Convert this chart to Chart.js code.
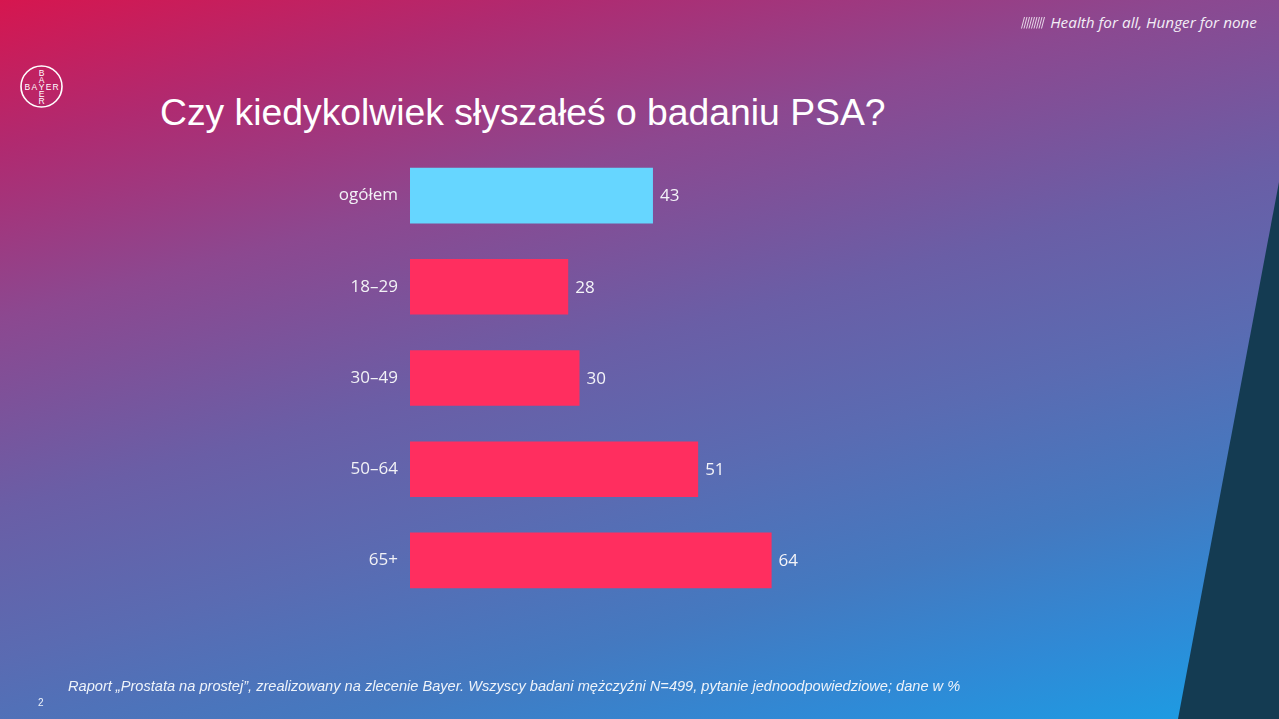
<!DOCTYPE html>
<html lang="pl">
<head>
<meta charset="utf-8">
<script src="https://cdn.jsdelivr.net/npm/chart.js@4.4.1/dist/chart.umd.min.js"></script>
<style>
  html, body { margin: 0; padding: 0; }
  body {
    width: 1279px; height: 719px; overflow: hidden; position: relative;
    background: linear-gradient(165deg, #d6164f 0%, #b02a70 14%, #8c4890 30%, #6a5ea6 48%, #5a6bb2 62%, #4479c0 76%, #2f8ad6 88%, #1a9fe5 100%);
    font-family: "Liberation Sans", Arial, sans-serif;
  }
  #dark {
    position: absolute; left: 0; top: 0; width: 1279px; height: 719px;
    background: #143b52;
    clip-path: polygon(1279px 182px, 1279px 719px, 1178px 719px);
  }
  #tagline {
    position: absolute; right: 22px; top: 12px;
    font-family: "Open Sans", sans-serif; font-style: italic; font-size: 15.3px;
    color: #f3eef6; white-space: nowrap;
  }
  #slashes { position: absolute; left: 1020px; top: 16px; }
  #title {
    position: absolute; left: 160px; top: 91px;
    font-family: "Liberation Sans", Arial, sans-serif; font-size: 37.3px; color: #ffffff;
    white-space: nowrap;
  }
  #footer {
    position: absolute; left: 68px; top: 678px;
    font-family: "Liberation Sans", Arial, sans-serif; font-style: italic; font-size: 14.6px;
    color: #eef3fa; white-space: nowrap;
  }
  #page {
    position: absolute; left: 38px; top: 697px;
    font-family: "Liberation Sans", Arial, sans-serif; font-size: 10px; color: #eef3fa;
  }
  #logo { position: absolute; left: 19px; top: 64px; }
  #wrap { position: absolute; left: 0; top: 0; width: 1279px; height: 719px; }
</style>
</head>
<body>
<div id="dark"></div>
<svg id="slashes" width="28" height="14" viewBox="0 0 28 14">
  <g stroke="#efe6f2" stroke-width="0.9">
    <line x1="4.5" y1="1" x2="1.5" y2="12.5"/>
    <line x1="7" y1="1" x2="4" y2="12.5"/>
    <line x1="9.5" y1="1" x2="6.5" y2="12.5"/>
    <line x1="12" y1="1" x2="9" y2="12.5"/>
    <line x1="14.5" y1="1" x2="11.5" y2="12.5"/>
    <line x1="17" y1="1" x2="14" y2="12.5"/>
    <line x1="19.5" y1="1" x2="16.5" y2="12.5"/>
    <line x1="22" y1="1" x2="19" y2="12.5"/>
    <line x1="24.5" y1="1" x2="21.5" y2="12.5"/>
  </g>
</svg>
<div id="tagline">Health for all, Hunger for none</div>
<svg id="logo" width="45" height="45" viewBox="0 0 45 45">
  <circle cx="22.5" cy="22.5" r="20.5" fill="none" stroke="#ffffff" stroke-width="1.6"/>
  <g fill="#ffffff" font-family="Liberation Sans, Arial, sans-serif" font-size="8.5" text-anchor="middle">
    <text x="8.4" y="25.6">B</text>
    <text x="15.4" y="25.6">A</text>
    <text x="22.5" y="25.6">Y</text>
    <text x="29.6" y="25.6">E</text>
    <text x="36.6" y="25.6">R</text>
    <text x="22.5" y="11.6">B</text>
    <text x="22.5" y="18.6">A</text>
    <text x="22.5" y="32.6">E</text>
    <text x="22.5" y="39.6">R</text>
  </g>
</svg>
<div id="title">Czy kiedykolwiek słyszałeś o badaniu PSA?</div>
<div id="wrap"><canvas id="chart" width="1279" height="719"></canvas></div>
<div id="footer">Raport „Prostata na prostej”, zrealizowany na zlecenie Bayer. Wszyscy badani mężczyźni N=499, pytanie jednoodpowiedziowe; dane w %</div>
<div id="page">2</div>
<script>
const categories = ["ogółem", "18–29", "30–49", "50–64", "65+"];
const values = [43, 28, 30, 51, 64];
const barColors = ["#66d6ff", "#ff2e5f", "#ff2e5f", "#ff2e5f", "#ff2e5f"];

const valueLabels = {
  id: "valueLabels",
  afterDatasetsDraw(chart) {
    const ctx = chart.ctx;
    const meta = chart.getDatasetMeta(0);
    ctx.save();
    ctx.font = '17px "Open Sans", sans-serif';
    ctx.fillStyle = "#f4f4f8";
    ctx.textAlign = "left";
    ctx.textBaseline = "middle";
    meta.data.forEach((bar, i) => {
      ctx.fillText(String(values[i]), bar.x + 7, bar.y + 1);
    });
    ctx.restore();
  }
};

new Chart(document.getElementById("chart"), {
  type: "bar",
  data: {
    labels: categories,
    datasets: [{
      data: values,
      backgroundColor: barColors,
      borderWidth: 0,
      barPercentage: 0.61,
      categoryPercentage: 1.0
    }]
  },
  options: {
    indexAxis: "y",
    responsive: false,
    animation: false,
    devicePixelRatio: 1,
    layout: { padding: { left: 0, right: 304, top: 150, bottom: 113 } },
    plugins: { legend: { display: false }, tooltip: { enabled: false } },
    scales: {
      x: { display: false, min: 0, max: 100 },
      y: {
        grid: { display: false, drawTicks: false },
        border: { display: false },
        ticks: {
          color: "#f2f2f6",
          padding: 12,
          font: { family: "Open Sans", size: 17 }
        },
        afterFit(scale) { scale.width = 410; }
      }
    }
  },
  plugins: [valueLabels]
});
</script>
</body>
</html>
